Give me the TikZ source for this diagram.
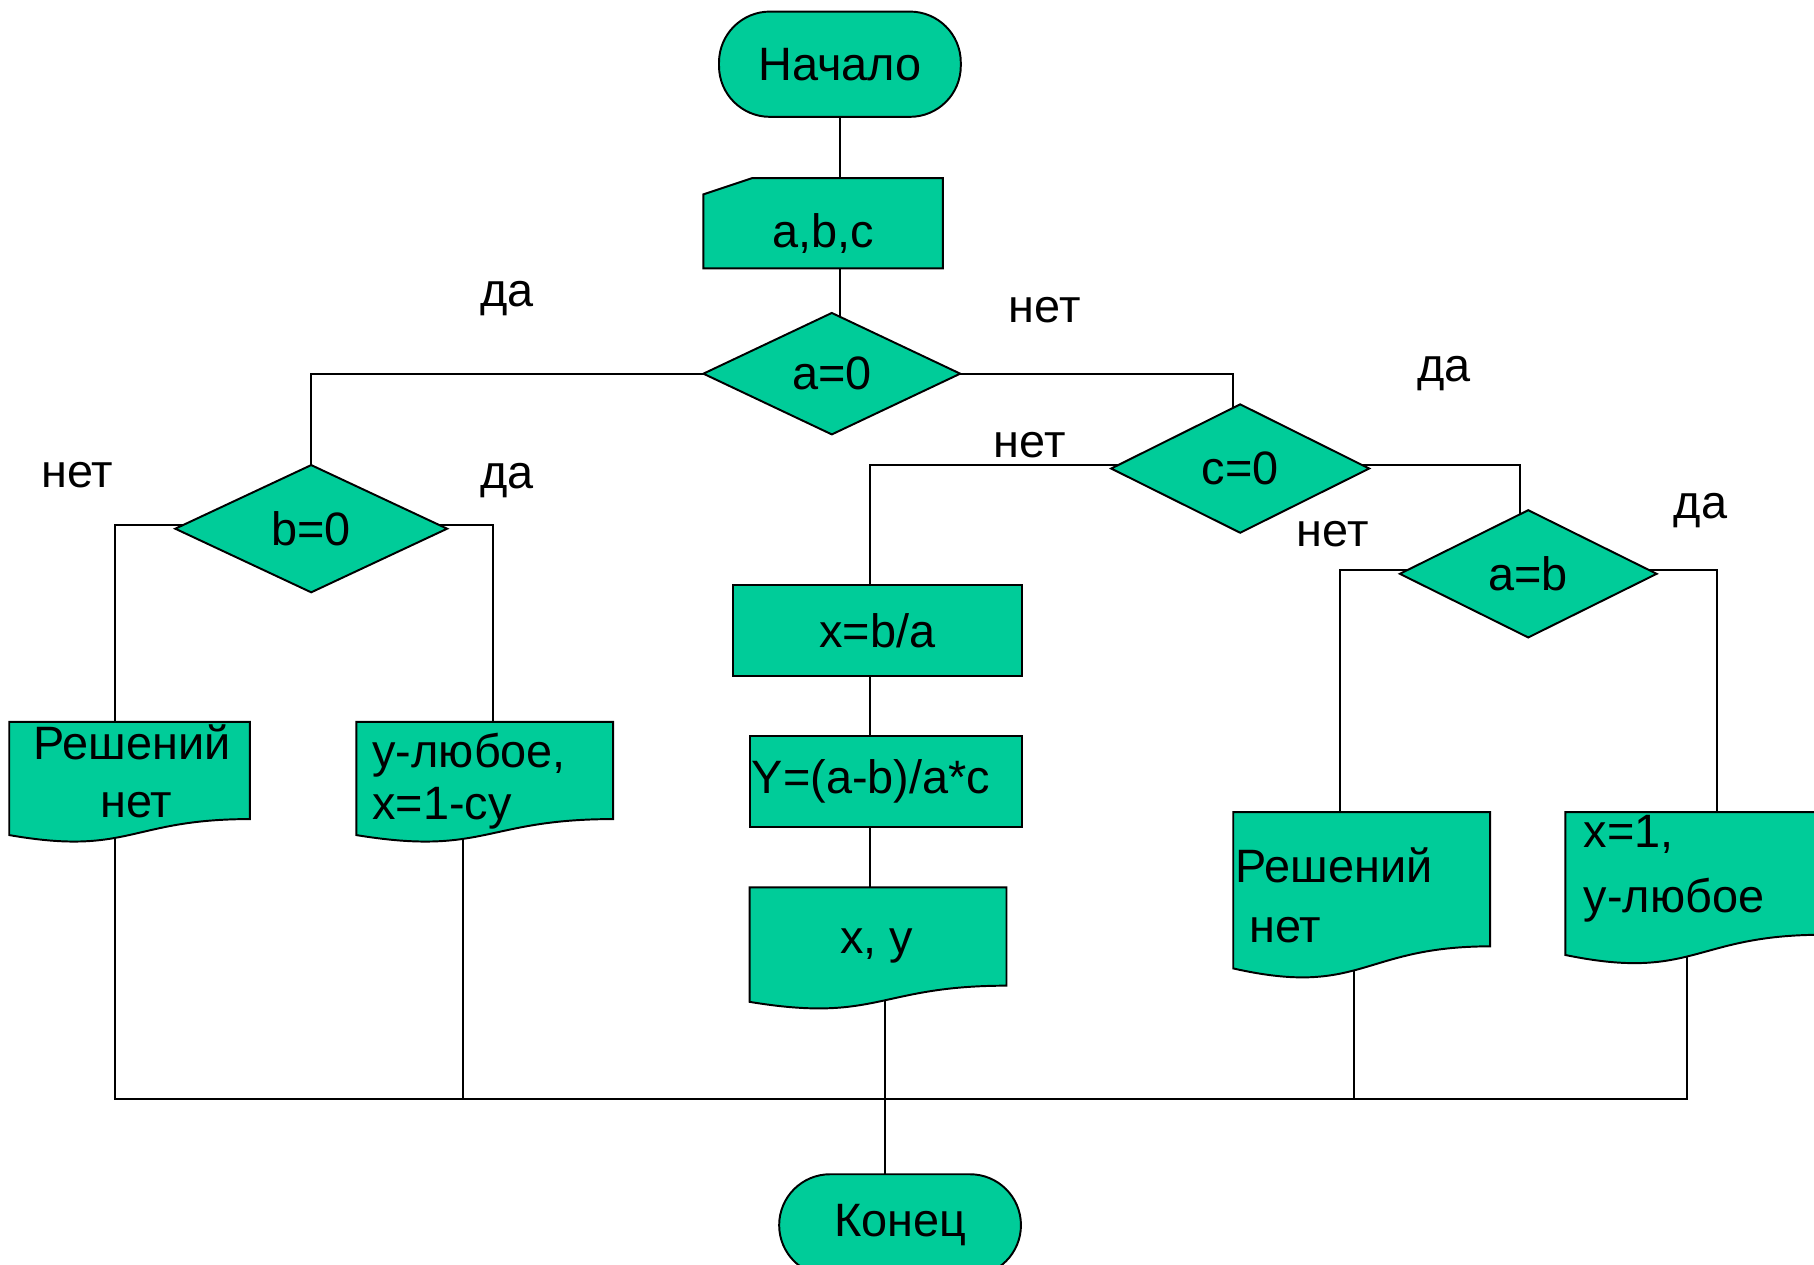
\documentclass[tikz,border=0pt]{standalone}
\usepackage{fontspec}
\setmainfont{Liberation Sans}
\usetikzlibrary{shapes.geometric,calc}
\definecolor{fc}{HTML}{00CC99}
\pgfdeclarelayer{bg}\pgfdeclarelayer{shp}\pgfsetlayers{bg,shp,main}
\def\U{0.025cm}
\newcommand\docshape[1]{\path[shapefill] let \p1=(#1.north west), \p2=(#1.south east) in (\p1) -- (\x2,\y1) -- (\p2) .. controls ({(\x1+\x2)/2},\y2) and ({(\x1+\x2)/2},{\y2-0.3815*(\y1-\y2)}) .. (\x1,{\y2-0.1646*(\y1-\y2)}) -- cycle;}
\tikzset{
  tx/.style={font=\fontsize{28.8}{34}\selectfont, inner sep=0pt, outer sep=0pt},
  shapefill/.style={fill=fc, draw=black, line width=1.2pt},
  term/.style={tx, shapefill, rectangle, rounded corners=1.1cm, minimum width={209*\U}, minimum height={91*\U}},
  proc/.style={tx, shapefill, rectangle},
  dec/.style={tx, shapefill, diamond, aspect=2},
  ghost/.style={tx, rectangle},
  conn/.style={line width=1.2pt, draw=black},
}
\begin{document}
\begin{tikzpicture}[x=0.025cm, y=-0.025cm]
\useasboundingbox (0,0) rectangle (1568,1093);
% nodes
\node[term] (start) at (726,55.5) {Начало};
\node[ghost, minimum width={207*\U}, minimum height={78*\U}] (abc) at (711.5,193) {\raisebox{-0.525cm}[0pt][0pt]{a,b,c}};
\node[dec, minimum width={222*\U}, minimum height={105*\U}] (a0) at (719,323) {a=0};
\node[dec, minimum width={223*\U}, minimum height={111*\U}] (c0) at (1072,405) {c=0};
\node[dec, minimum width={235*\U}, minimum height={110*\U}] (b0) at (269,457) {\raisebox{-0.07cm}{b=0}};
\node[dec, minimum width={222*\U}, minimum height={110*\U}] (ab) at (1321,496) {a=b};
\node[proc, minimum width={249*\U}, minimum height={78*\U}] (calc1) at (758.5,545) {x=b/a};
\node[proc, minimum width={235*\U}, minimum height={79*\U}, text width={231*\U}, align=left, inner xsep={2*\U}] (calc2) at (765.5,675.5) {Y=(a-b)/a*c};
\node[ghost, minimum width={208*\U}, minimum height={84*\U}] (d1) at (112,666) {};
\node[ghost, minimum width={222*\U}, minimum height={84*\U}] (d2) at (419,666) {};
\node[ghost, minimum width={222*\U}, minimum height={116*\U}] (d3) at (1177,760) {};
\node[ghost, minimum width={222*\U}, minimum height={106*\U}] (d4) at (1464,755) {};
\node[ghost, minimum width={222*\U}, minimum height={85*\U}] (out) at (759,809.5) {};
\node[term, minimum height={88*\U}] (end) at (778,1059) {Конец};
% texts in document shapes
\node[tx, align=center, font=\fontsize{28.8}{35.5}\selectfont] (d1t) at (114,667) {Решений\\\hspace*{0.2cm}нет};
\node[tx, align=left, anchor=west, font=\fontsize{28.8}{32}\selectfont] (d2t) at (322,675) {y-любое,\\x=1-cy};
\node[tx, align=left, anchor=west, font=\fontsize{28.8}{37}\selectfont] (d3t) at (1068,774) {Решений\\\hspace*{0.3cm}нет};
\node[tx, align=left, anchor=west, font=\fontsize{28.8}{40}\selectfont] (d4t) at (1369,751) {x=1,\\y-любое};
\node[tx] (outt) at (758,818) {x, y};
% branch labels
\node[tx] (l1) at (438,258) {да};
\node[tx] (l2) at (903,268) {нет};
\node[tx] (l3) at (67,411) {нет};
\node[tx] (l4) at (438,415) {да};
\node[tx] (l5) at (1248,323) {да};
\node[tx] (l6) at (890,385) {нет};
\node[tx] (l7) at (1152,462) {нет};
\node[tx] (l8) at (1470,441) {да};
% custom shapes
\begin{pgfonlayer}{shp}
\path[shapefill] ($(abc.north west)+(0,14)$) -- ($(abc.north west)+(42,0)$) -- (abc.north east) -- (abc.south east) -- (abc.south west) -- cycle;
\docshape{d1}
\docshape{d2}
\docshape{d3}
\docshape{d4}
\docshape{out}
\end{pgfonlayer}
% connectors
\begin{pgfonlayer}{bg}
\fill[white] (0,0) rectangle (1568,1093);
\draw[conn] (start.center) -- (start.center |- abc.center);
\draw[conn] (start.center |- abc.center) -- (start.center |- a0.center);
\draw[conn] (a0.center) -| (b0.center);
\draw[conn] (a0.center) -| ($(c0.center)+(-6,0)$);
\draw[conn] ($(b0.center)+(0,-3)$) -| ($(d1.center)+(-13,0)$);
\draw[conn] ($(b0.center)+(0,-3)$) -| ($(d2.center)+(7,0)$);
\draw[conn] ($(c0.center)+(0,-3)$) -| ($(calc1.center)+(-6.5,0)$);
\draw[conn] ($(c0.center)+(0,-3)$) -| ($(ab.center)+(-7,0)$);
\draw[conn] ($(ab.center)+(0,-3)$) -| ($(d3.center)+(-19,0)$);
\draw[conn] ($(ab.center)+(0,-3)$) -| ($(d4.center)+(20,0)$);
\draw[conn] ($(calc1.center)+(-6.5,0)$) -- ($(calc2.center)+(-13.5,0)$);
\draw[conn] ($(calc2.center)+(-13.5,0)$) -- ($(out.center)+(-7,0)$);
\draw[conn] ($(out.center)+(6,0)$) -- ($(end.center)+(-13,0)$);
\coordinate (busL) at (99,950);
\coordinate (busR) at (1458,950);
\draw[conn] ($(d1.center)+(-13,0)$) -- (busL) -- (busR) -- ($(d4.center)+(-6,0)$);
\path ($(d2.center)+(-19,0)$) coordinate (d2o);
\path ($(d3.center)+(-7,0)$) coordinate (d3o);
\draw[conn] (d2o) -- (d2o |- busL);
\draw[conn] (d3o) -- (d3o |- busL);
\end{pgfonlayer}
\end{tikzpicture}
\end{document}
